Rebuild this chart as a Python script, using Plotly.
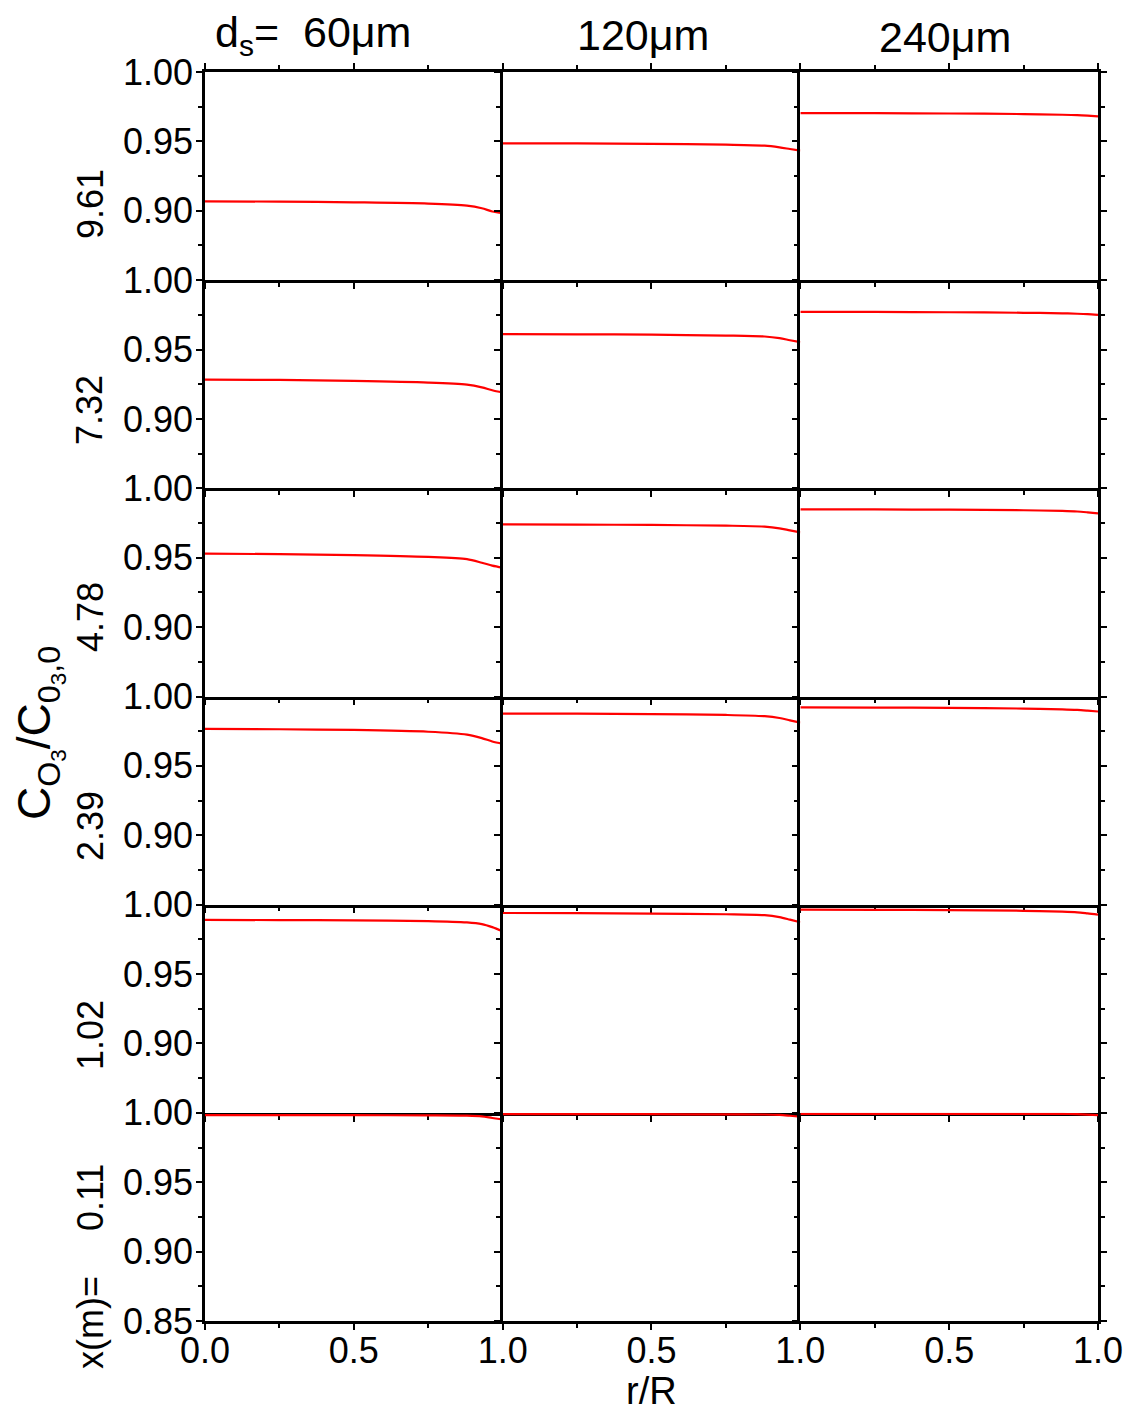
import plotly.graph_objects as go
from plotly.subplots import make_subplots

# ---- data ----
r = [0.0, 0.25, 0.5, 0.75, 0.88, 0.93, 0.965, 1.0]
x_positions = ["9.61", "7.32", "4.78", "2.39", "1.02", "0.11"]
particle_sizes = ["60\u03bcm", "120\u03bcm", "240\u03bcm"]

# rows: x(m) = 9.61, 7.32, 4.78, 2.39, 1.02, 0.11 ; cols: 60, 120, 240 um
c_961_60 = [0.9068, 0.9066, 0.9061, 0.9052, 0.9037, 0.9018, 0.8995, 0.8983]
c_961_120 = [0.9486, 0.9485, 0.9482, 0.9476, 0.9469, 0.9457, 0.9445, 0.9433]
c_961_240 = [0.9704, 0.9703, 0.9701, 0.9697, 0.9692, 0.9689, 0.9685, 0.9680]

c_732_60 = [0.9284, 0.9281, 0.9274, 0.9262, 0.9247, 0.9228, 0.9207, 0.9191]
c_732_120 = [0.9611, 0.9610, 0.9607, 0.9601, 0.9594, 0.9582, 0.9567, 0.9553]
c_732_240 = [0.9772, 0.9771, 0.9769, 0.9765, 0.9761, 0.9758, 0.9755, 0.9750]

c_478_60 = [0.9529, 0.9526, 0.9519, 0.9506, 0.9490, 0.9464, 0.9443, 0.9428]
c_478_120 = [0.9740, 0.9739, 0.9736, 0.9731, 0.9724, 0.9712, 0.9697, 0.9683]
c_478_240 = [0.9849, 0.9848, 0.9846, 0.9842, 0.9837, 0.9833, 0.9827, 0.9820]

c_239_60 = [0.9767, 0.9764, 0.9759, 0.9746, 0.9725, 0.9700, 0.9676, 0.9659]
c_239_120 = [0.9877, 0.9876, 0.9873, 0.9867, 0.9858, 0.9845, 0.9828, 0.9812]
c_239_240 = [0.9921, 0.9920, 0.9918, 0.9913, 0.9907, 0.9903, 0.9898, 0.9892]

c_102_60 = [0.9890, 0.9889, 0.9887, 0.9882, 0.9872, 0.9860, 0.9838, 0.9808]
c_102_120 = [0.9940, 0.9939, 0.9936, 0.9931, 0.9924, 0.9910, 0.9892, 0.9873]
c_102_240 = [0.9964, 0.9963, 0.9961, 0.9956, 0.9950, 0.9945, 0.9937, 0.9928]

c_011_60 = [0.9983, 0.9983, 0.9983, 0.9982, 0.9980, 0.9975, 0.9963, 0.9952]
c_011_120 = [0.9990, 0.9990, 0.9990, 0.9989, 0.9988, 0.9985, 0.9979, 0.9972]
c_011_240 = [0.9993, 0.9993, 0.9993, 0.9993, 0.9992, 0.9990, 0.9987, 0.9984]

series = [
    [c_961_60, c_961_120, c_961_240],
    [c_732_60, c_732_120, c_732_240],
    [c_478_60, c_478_120, c_478_240],
    [c_239_60, c_239_120, c_239_240],
    [c_102_60, c_102_120, c_102_240],
    [c_011_60, c_011_120, c_011_240],
]

y_ticks_upper = [0.90, 0.95, 1.00]
y_ticks_bottom = [0.85, 0.90, 0.95, 1.00]
x_ticks_first = [0.0, 0.5, 1.0]
x_ticks_other = [0.5, 1.0]

# ---- figure ----
W, H = 1127, 1413
L, R, T, B = 205, 29, 72, 92
FONT = "Liberation Sans, Arial, sans-serif"

fig = make_subplots(rows=6, cols=3, horizontal_spacing=0, vertical_spacing=0)

for i in range(6):
    for j in range(3):
        fig.add_trace(
            go.Scatter(x=r, y=series[i][j], mode="lines",
                       line=dict(color="#ff0000", width=2.2, shape="spline", smoothing=0.8),
                       showlegend=False, hoverinfo="skip"),
            row=i + 1, col=j + 1)

        bottom = (i == 5)
        first = (j == 0)
        yt = y_ticks_bottom if bottom else y_ticks_upper
        fig.update_yaxes(
            range=[0.85, 1.0], tickvals=yt, ticktext=["%.2f" % v for v in yt],
            showticklabels=first, showline=True, linecolor="black", linewidth=2.5,
            mirror="ticks" if j == 2 else False, automargin=False,
            ticks="outside", ticklen=6, tickwidth=2, tickcolor="black",
            minor=dict(tickvals=[0.875, 0.925, 0.975], ticks="outside", ticklen=4,
                       tickwidth=2, tickcolor="black"),
            showgrid=False, zeroline=False, ticklabelstandoff=-4,
            tickfont=dict(family=FONT, size=36, color="black"),
            row=i + 1, col=j + 1)
        xt = x_ticks_first if first else x_ticks_other
        fig.update_xaxes(
            range=[0, 1.0], tickvals=xt, ticktext=["%.1f" % v for v in xt],
            showticklabels=bottom, showline=True, linecolor="black", linewidth=2.5,
            mirror="ticks" if i == 0 else False, automargin=False,
            ticks="outside", ticklen=6, tickwidth=2, tickcolor="black",
            minor=dict(tickvals=[0.25, 0.75], ticks="outside", ticklen=4,
                       tickwidth=2, tickcolor="black"),
            showgrid=False, zeroline=False, ticklabelstandoff=-10,
            tickfont=dict(family=FONT, size=36, color="black"),
            row=i + 1, col=j + 1)

PW, PH = W - L - R, H - T - B


def px(xp):
    return (xp - L) / PW


def py(yp):
    return (H - B - yp) / PH


ann = []
# column titles
ann.append(dict(x=px(213), y=py(35), xanchor="left", yanchor="middle",
                text="d<sub>s</sub>=  " + particle_sizes[0], font=dict(size=43)))
ann.append(dict(x=px(643), y=py(35), xanchor="center", yanchor="middle",
                text=particle_sizes[1], font=dict(size=43)))
ann.append(dict(x=px(945), y=py(37), xanchor="center", yanchor="middle",
                text=particle_sizes[2], font=dict(size=43)))
# row labels
row_centers = [204, 410, 617, 826, 1035, 1197]
for lab, yc in zip(x_positions, row_centers):
    ann.append(dict(x=px(90), y=py(yc), xanchor="center", yanchor="middle",
                    text=lab, textangle=-90, font=dict(size=36)))
ann.append(dict(x=px(90), y=py(1322), xanchor="center", yanchor="middle",
                text="x(m)=", textangle=-90, font=dict(size=36)))
# y title
ann.append(dict(x=px(40), y=py(733), xanchor="center", yanchor="middle",
                text="C<sub>O<sub>3</sub></sub>/C<sub>0<sub>3</sub>,0</sub>",
                textangle=-90, font=dict(size=46)))
# x title
ann.append(dict(x=px(651), y=py(1391), xanchor="center", yanchor="middle",
                text="r/R", font=dict(size=38)))

for a in ann:
    a.update(xref="paper", yref="paper", showarrow=False)
    a["font"].update(family=FONT, color="black")

fig.update_layout(
    width=W, height=H,
    margin=dict(l=L, r=R, t=T, b=B, pad=0, autoexpand=False),
    paper_bgcolor="white", plot_bgcolor="white",
    annotations=ann,
    font=dict(family=FONT, color="black"),
)

fig.write_html("out.html")
